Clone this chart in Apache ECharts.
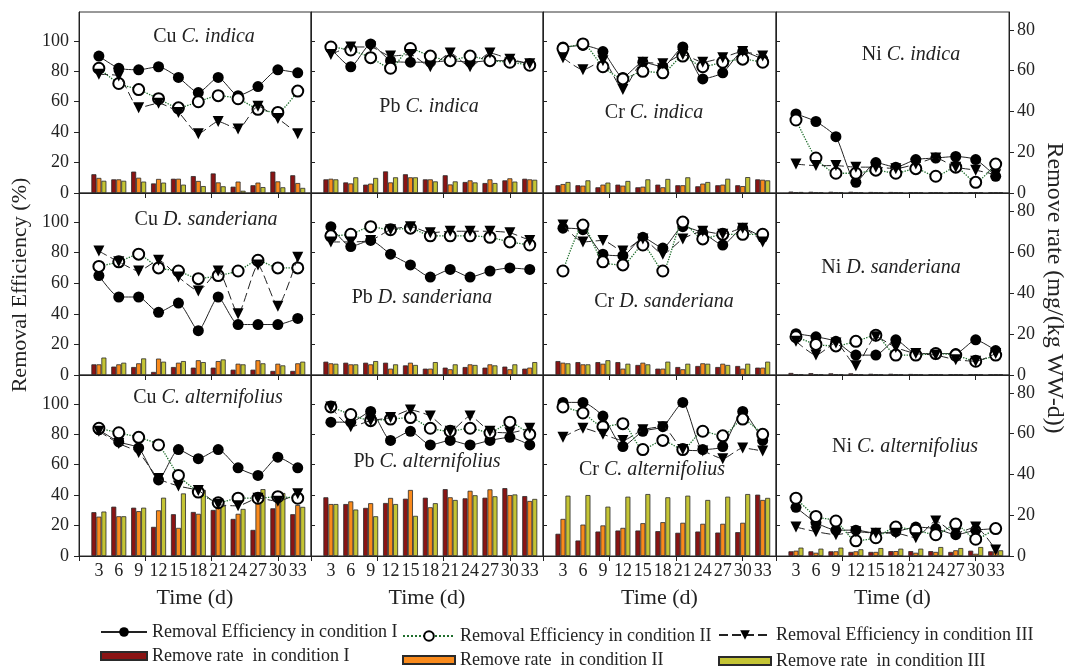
<!DOCTYPE html>
<html>
<head>
<meta charset="utf-8">
<script src="https://cdn.jsdelivr.net/npm/echarts@6/dist/echarts.min.js"></script>
<style>
  html, body { margin: 0; padding: 0; background: #fff; }
  #chart { width: 1069px; height: 670px; }
</style>
</head>
<body>
<div id="chart"></div>
<script>
var myChart = echarts.init(document.getElementById('chart'));
var FONT = 'Liberation Serif';

//sampling days and tick positions
var days = [3, 6, 9, 12, 15, 18, 21, 24, 27, 30, 33];
var xTicks = [0, 10, 20, 30];
var leftTicks = [0, 20, 40, 60, 80, 100];
var rightTicks = [0, 20, 40, 60, 80];

//Cu C. indica
var cuInd_re1 = [90, 82, 81, 83, 76, 66, 76, 64, 70, 81, 79];
var cuInd_re2 = [82, 72, 68, 62, 56, 60, 64, 62, 55, 53, 67];
var cuInd_re3 = [78, 77, 56, 59, 53, 39, 47, 42, 57, 49, 39];
var cuInd_rr1 = [9.2, 6.7, 10.5, 4.7, 7.0, 8.3, 9.6, 3.1, 3.8, 10.5, 8.7];
var cuInd_rr2 = [7.4, 6.7, 7.5, 6.9, 7.0, 5.9, 5.2, 5.6, 5.1, 5.7, 4.9];
var cuInd_rr3 = [6.0, 6.0, 5.6, 5.1, 4.1, 3.4, 3.3, 1.1, 2.9, 2.8, 2.5];
//Pb C. indica
var pbInd_re1 = [95, 83, 98, 87, 86, 86, 87, 86, 87, 87, 85];
var pbInd_re2 = [96, 94, 89, 82, 95, 90, 87, 90, 87, 86, 84];
var pbInd_re3 = [91, 96, 96, 90, 91, 83, 92, 83, 92, 88, 85];
var pbInd_rr1 = [6.7, 5.2, 4.1, 10.6, 9.2, 6.7, 8.7, 5.4, 4.9, 6.2, 7.0];
var pbInd_rr2 = [7.0, 4.7, 4.6, 5.2, 7.7, 6.7, 4.2, 6.2, 6.7, 7.2, 6.7];
var pbInd_rr3 = [6.7, 7.7, 7.4, 7.7, 7.7, 5.7, 5.7, 5.2, 4.9, 5.6, 6.5];
//Cr C. indica
var crInd_re1 = [96, 97, 93, 76, 86, 83, 96, 75, 79, 93, 88];
var crInd_re2 = [95, 98, 83, 75, 80, 79, 90, 83, 86, 88, 86];
var crInd_re3 = [89, 81, 87, 68, 86, 85, 91, 86, 89, 93, 90];
var crInd_rr1 = [3.8, 3.8, 2.8, 4.1, 2.8, 4.1, 3.8, 3.3, 3.8, 3.8, 6.7];
var crInd_rr2 = [4.4, 3.6, 4.1, 3.6, 3.1, 2.8, 3.8, 4.6, 4.1, 3.4, 6.5];
var crInd_rr3 = [5.4, 6.2, 5.1, 5.9, 6.7, 6.9, 7.7, 5.4, 7.0, 7.8, 6.2];
//Ni C. indica
var niInd_re1 = [52, 47, 37, 7, 20, 17, 22, 23, 24, 22, 11];
var niInd_re2 = [48, 23, 13, 13, 15, 13, 16, 11, 17, 7, 19];
var niInd_re3 = [19, 18, 18, 17, 17, 16, 19, 23, 17, 15, 12];
var niInd_rr1 = [0.7, 0.6, 0.6, 0.6, 0.5, 0.5, 0.4, 0.4, 0.4, 0.4, 0.4];
var niInd_rr2 = [0.4, 0.3, 0.3, 0.3, 0.3, 0.3, 0.3, 0.3, 0.3, 0.4, 0.3];
var niInd_rr3 = [0.5, 0.3, 0.4, 0.3, 0.3, 0.3, 0.3, 0.3, 0.3, 0.3, 0.3];
//Cu D. sanderiana
var cuSan_re1 = [65, 51, 51, 41, 47, 29, 51, 33, 33, 33, 37];
var cuSan_re2 = [71, 74, 79, 70, 68, 63, 65, 68, 75, 70, 70];
var cuSan_re3 = [81, 74, 68, 75, 64, 55, 68, 40, 72, 45, 77];
var cuSan_rr1 = [5.2, 4.1, 3.9, 1.5, 3.9, 3.6, 3.6, 2.6, 2.6, 2.0, 2.0];
var cuSan_rr2 = [5.2, 5.2, 5.7, 8.0, 6.0, 7.2, 6.8, 5.5, 7.2, 5.5, 5.7];
var cuSan_rr3 = [8.5, 6.0, 8.1, 6.5, 6.8, 6.3, 7.6, 5.2, 5.7, 4.7, 6.5];
//Pb D. sanderiana
var pbSan_re1 = [97, 84, 88, 79, 72, 64, 69, 64, 68, 70, 69];
var pbSan_re2 = [91, 92, 97, 95, 96, 91, 91, 91, 90, 87, 85];
var pbSan_re3 = [87, 87, 88, 95, 97, 93, 94, 94, 94, 93, 88];
var pbSan_rr1 = [6.5, 6.0, 6.0, 6.0, 4.7, 3.1, 3.6, 3.9, 3.6, 4.1, 3.1];
var pbSan_rr2 = [5.7, 5.2, 5.2, 3.1, 6.0, 3.1, 2.8, 5.2, 5.2, 2.8, 3.6];
var pbSan_rr3 = [5.5, 5.2, 6.8, 5.2, 4.9, 6.3, 5.2, 4.9, 4.7, 5.2, 6.3];
//Cr D. sanderiana
var crSan_re1 = [96, 95, 79, 78, 90, 83, 97, 93, 85, 96, 90];
var crSan_re2 = [68, 98, 74, 72, 85, 68, 100, 89, 92, 92, 92];
var crSan_re3 = [98, 87, 88, 81, 89, 79, 89, 94, 92, 96, 87];
var crSan_rr1 = [6.8, 6.3, 6.3, 6.3, 4.9, 3.1, 3.9, 4.4, 3.9, 4.4, 3.6];
var crSan_rr2 = [6.0, 5.2, 5.5, 3.1, 6.0, 3.1, 2.8, 5.7, 5.5, 3.1, 3.6];
var crSan_rr3 = [5.7, 5.2, 7.2, 5.5, 5.2, 6.5, 5.5, 5.5, 4.9, 5.5, 6.5];
//Ni D. sanderiana
var niSan_re1 = [27, 25, 22, 13, 13, 23, 14, 14, 14, 23, 16];
var niSan_re2 = [25, 20, 19, 22, 26, 13, 13, 14, 13, 9, 13];
var niSan_re3 = [22, 13, 21, 6, 25, 18, 14, 13, 10, 9, 14];
var niSan_rr1 = [1.0, 0.9, 0.8, 0.8, 0.6, 0.6, 0.5, 0.4, 0.4, 0.4, 0.3];
var niSan_rr2 = [0.4, 0.4, 0.4, 0.4, 0.4, 0.4, 0.3, 0.3, 0.3, 0.4, 0.3];
var niSan_rr3 = [0.3, 0.3, 0.3, 0.3, 0.3, 0.3, 0.3, 0.3, 0.3, 0.3, 0.3];
//Cu C. alternifolius
var cuAlt_re1 = [83, 75, 71, 50, 70, 64, 70, 58, 53, 65, 58];
var cuAlt_re2 = [84, 81, 78, 73, 53, 42, 35, 38, 38, 39, 38];
var cuAlt_re3 = [82, 74, 68, 51, 46, 43, 34, 33, 38, 36, 41];
var cuAlt_rr1 = [21.5, 24.2, 23.7, 14.3, 20.5, 21.6, 22.6, 18.2, 12.8, 23.4, 20.5];
var cuAlt_rr2 = [19.3, 19.5, 22.0, 22.4, 13.8, 20.7, 27.6, 20.7, 28.8, 28.3, 25.0];
var cuAlt_rr3 = [21.8, 19.5, 23.7, 28.6, 30.7, 32.4, 24.7, 23.1, 32.8, 30.9, 24.1];
//Pb C. alternifolius
var pbAlt_re1 = [88, 88, 95, 76, 82, 73, 76, 73, 76, 78, 73];
var pbAlt_re2 = [98, 93, 89, 90, 91, 84, 82, 84, 81, 88, 80];
var pbAlt_re3 = [98, 85, 89, 91, 96, 92, 82, 92, 82, 81, 84];
var pbAlt_rr1 = [28.8, 25.5, 23.6, 26.0, 28.1, 28.6, 32.8, 28.3, 28.6, 33.3, 29.4];
var pbAlt_rr2 = [25.5, 26.8, 25.9, 28.5, 32.4, 23.9, 28.8, 32.0, 32.7, 29.9, 27.0];
var pbAlt_rr3 = [25.5, 22.8, 19.5, 25.5, 19.7, 25.9, 27.5, 29.8, 29.3, 30.2, 28.0];
//Cr C. alternifolius
var crAlt_re1 = [101, 101, 92, 72, 82, 85, 101, 70, 72, 95, 76];
var crAlt_re2 = [98, 94, 85, 87, 70, 76, 70, 82, 79, 90, 80];
var crAlt_re3 = [78, 84, 80, 76, 83, 85, 70, 69, 64, 71, 69];
var crAlt_rr1 = [10.9, 7.6, 12.0, 12.5, 12.5, 12.2, 11.4, 12.0, 11.5, 11.7, 30.1];
var crAlt_rr2 = [18.2, 15.4, 15.0, 13.8, 16.1, 16.6, 16.3, 15.8, 15.8, 16.3, 27.5];
var crAlt_rr3 = [29.6, 29.9, 24.2, 29.1, 30.4, 28.8, 29.6, 27.5, 29.1, 30.4, 28.5];
//Ni C. alternifolius
var niAlt_re1 = [32, 22, 17, 17, 15, 16, 19, 18, 14, 17, 18];
var niAlt_re2 = [38, 26, 23, 10, 12, 19, 17, 14, 21, 11, 18];
var niAlt_re3 = [19, 16, 14, 16, 15, 15, 12, 23, 15, 19, 4];
var niAlt_rr1 = [2.3, 2.3, 2.3, 2.0, 2.0, 2.4, 2.4, 2.4, 2.0, 2.6, 2.3];
var niAlt_rr2 = [2.6, 1.6, 2.3, 2.3, 2.0, 2.4, 1.6, 2.0, 2.8, 1.1, 2.3];
var niAlt_rr3 = [4.1, 3.6, 4.1, 3.3, 3.9, 3.6, 3.6, 4.4, 3.9, 4.4, 2.8];

var reNames = ['Removal Efficiency in condition I', 'Removal Efficiency in condition II', 'Removal Efficiency in condition III'];
var rrNames = ['Remove rate  in condition I', 'Remove rate  in condition II', 'Remove rate  in condition III'];

//panels row by row
var panels = [
    {metal: 'Cu', plant: 'C. indica', re: [cuInd_re1, cuInd_re2, cuInd_re3], rr: [cuInd_rr1, cuInd_rr2, cuInd_rr3]},
    {metal: 'Pb', plant: 'C. indica', re: [pbInd_re1, pbInd_re2, pbInd_re3], rr: [pbInd_rr1, pbInd_rr2, pbInd_rr3]},
    {metal: 'Cr', plant: 'C. indica', re: [crInd_re1, crInd_re2, crInd_re3], rr: [crInd_rr1, crInd_rr2, crInd_rr3]},
    {metal: 'Ni', plant: 'C. indica', re: [niInd_re1, niInd_re2, niInd_re3], rr: [niInd_rr1, niInd_rr2, niInd_rr3]},
    {metal: 'Cu', plant: 'D. sanderiana', re: [cuSan_re1, cuSan_re2, cuSan_re3], rr: [cuSan_rr1, cuSan_rr2, cuSan_rr3]},
    {metal: 'Pb', plant: 'D. sanderiana', re: [pbSan_re1, pbSan_re2, pbSan_re3], rr: [pbSan_rr1, pbSan_rr2, pbSan_rr3]},
    {metal: 'Cr', plant: 'D. sanderiana', re: [crSan_re1, crSan_re2, crSan_re3], rr: [crSan_rr1, crSan_rr2, crSan_rr3]},
    {metal: 'Ni', plant: 'D. sanderiana', re: [niSan_re1, niSan_re2, niSan_re3], rr: [niSan_rr1, niSan_rr2, niSan_rr3]},
    {metal: 'Cu', plant: 'C. alternifolius', re: [cuAlt_re1, cuAlt_re2, cuAlt_re3], rr: [cuAlt_rr1, cuAlt_rr2, cuAlt_rr3]},
    {metal: 'Pb', plant: 'C. alternifolius', re: [pbAlt_re1, pbAlt_re2, pbAlt_re3], rr: [pbAlt_rr1, pbAlt_rr2, pbAlt_rr3]},
    {metal: 'Cr', plant: 'C. alternifolius', re: [crAlt_re1, crAlt_re2, crAlt_re3], rr: [crAlt_rr1, crAlt_rr2, crAlt_rr3]},
    {metal: 'Ni', plant: 'C. alternifolius', re: [niAlt_re1, niAlt_re2, niAlt_re3], rr: [niAlt_rr1, niAlt_rr2, niAlt_rr3]}
];

//layout
var gridLeft = [79, 311, 543, 776];
var gridWidth = [232, 232, 233, 233];
var gridTop = [12, 193, 375];
var gridHeight = [181, 182, 181];
var titleXY = [[204, 37], [429, 107], [654, 113], [911, 55],
               [206, 220], [422, 298], [664, 302], [891, 268],
               [208, 398], [427, 462], [652, 470], [905, 447]];

var barColors = ['#8a1414', '#f98a1c', '#c4c434'];
var axisColor = '#222';
var textColor = '#222';

var option = {
    animation: false,
    backgroundColor: '#fff',
    grid: [],
    xAxis: [],
    yAxis: [],
    series: [],
    legend: [],
    graphic: []
};

function pairs(vals) {
    return days.map(function (d, k) { return [d, vals[k]]; });
}

panels.forEach(function (p, i) {
    var r = Math.floor(i / 4), c = i % 4;
    option.grid.push({
        left: gridLeft[c], top: gridTop[r], width: gridWidth[c], height: gridHeight[r],
        show: true, borderColor: '#333', borderWidth: 1, outerBoundsMode: 'none'
    });
    option.xAxis.push({
        gridIndex: i, type: 'value', min: 0, max: 35,
        axisLine: {show: true, onZero: false, lineStyle: {color: axisColor, width: 1}},
        axisTick: {show: true, customValues: xTicks, length: 5, lineStyle: {color: axisColor}},
        axisLabel: {show: r === 2, customValues: days, margin: 6, color: textColor, fontFamily: FONT, fontSize: 18},
        splitLine: {show: false},
        name: r === 2 ? 'Time (d)' : '',
        nameLocation: 'middle', nameGap: 31,
        nameTextStyle: {color: textColor, fontFamily: FONT, fontSize: 22}
    });
    //left axis: removal efficiency
    option.yAxis.push({
        gridIndex: i, type: 'value', min: 0, max: 119, position: 'left',
        axisLine: {show: true, onZero: false, lineStyle: {color: axisColor, width: 1}},
        axisTick: {show: true, customValues: leftTicks, inside: c > 0, length: c > 0 ? 4 : 5, lineStyle: {color: axisColor}},
        axisLabel: {show: c === 0, customValues: leftTicks, margin: 10, color: textColor, fontFamily: FONT, fontSize: 18},
        splitLine: {show: false}
    });
    //right axis: remove rate
    option.yAxis.push({
        gridIndex: i, type: 'value', min: 0, max: 88.8, position: 'right',
        show: c === 3,
        axisLine: {show: true, onZero: false, lineStyle: {color: axisColor, width: 1}},
        axisTick: {show: true, customValues: rightTicks, length: 5, lineStyle: {color: axisColor}},
        axisLabel: {show: true, customValues: rightTicks, margin: 8, color: textColor, fontFamily: FONT, fontSize: 18},
        splitLine: {show: false}
    });

    //bars
    for (var j = 0; j < 3; j++) {
        option.series.push({
            name: rrNames[j], type: 'bar',
            xAxisIndex: i, yAxisIndex: 2 * i + 1,
            barWidth: 5, barGap: '0%',
            itemStyle: {color: barColors[j], borderColor: '#2a2a2a', borderWidth: 0.8},
            data: pairs(p.rr[j]), z: 2
        });
    }
    //condition I
    option.series.push({
        name: reNames[0], type: 'line', xAxisIndex: i, yAxisIndex: 2 * i,
        smooth: 0.2, symbol: 'circle', symbolSize: 11,
        itemStyle: {color: '#000'},
        lineStyle: {color: '#222', width: 1},
        data: pairs(p.re[0]), z: 3
    });
    //condition II
    option.series.push({
        name: reNames[1], type: 'line', xAxisIndex: i, yAxisIndex: 2 * i,
        smooth: 0.2, symbol: 'emptyCircle', symbolSize: 11,
        itemStyle: {color: '#000', borderWidth: 1},
        lineStyle: {color: '#1f6e2c', width: 1.3, type: 'dotted'},
        data: pairs(p.re[1]), z: 4
    });
    //condition III
    option.series.push({
        name: reNames[2], type: 'line', xAxisIndex: i, yAxisIndex: 2 * i,
        smooth: 0.2, symbol: 'triangle', symbolRotate: 180, symbolSize: 11,
        itemStyle: {color: '#000'},
        lineStyle: {color: '#222', width: 1, type: [9, 4]},
        data: pairs(p.re[2]), z: 5
    });

    option.graphic.push({
        type: 'text', x: titleXY[i][0], y: titleXY[i][1], z: 10,
        style: {
            text: '{n|' + p.metal + ' }{s|' + p.plant + '}',
            align: 'center', verticalAlign: 'middle',
            rich: {
                n: {fontFamily: FONT, fontSize: 20, fill: textColor},
                s: {fontFamily: FONT, fontSize: 20, fontStyle: 'italic', fill: textColor}
            }
        }
    });
});

//axis titles
option.graphic.push({
    type: 'text', x: 20, y: 285, rotation: Math.PI / 2, z: 10,
    style: {text: 'Removal Efficiency (%)', align: 'center', verticalAlign: 'middle',
            fontFamily: FONT, fontSize: 22, fill: textColor}
});
option.graphic.push({
    type: 'text', x: 1054, y: 288, rotation: -Math.PI / 2, z: 10,
    style: {text: 'Remove rate (mg/(kg WW-d))', align: 'center', verticalAlign: 'middle',
            fontFamily: FONT, fontSize: 24, fill: textColor}
});

//legends, one per entry so they can be staggered like the figure
function addLegend(name, left, top, w, h, isBar) {
    option.legend.push({
        selectedMode: false, left: left, top: top, padding: 0,
        itemWidth: w, itemHeight: h,
        data: [isBar ? {name: name, icon: 'rect'} : {name: name}],
        textStyle: {fontFamily: FONT, fontSize: 18, color: textColor}
    });
}
addLegend(reNames[0], 100, 623, 46, 12, false);
addLegend(reNames[1], 402, 627, 52, 12, false);
addLegend(reNames[2], 718, 626, 52, 12, false);
addLegend(rrNames[0], 100, 647, 46, 8, true);
addLegend(rrNames[1], 402, 651, 52, 8, true);
addLegend(rrNames[2], 718, 652, 52, 8, true);

myChart.setOption(option);
</script>
</body>
</html>
